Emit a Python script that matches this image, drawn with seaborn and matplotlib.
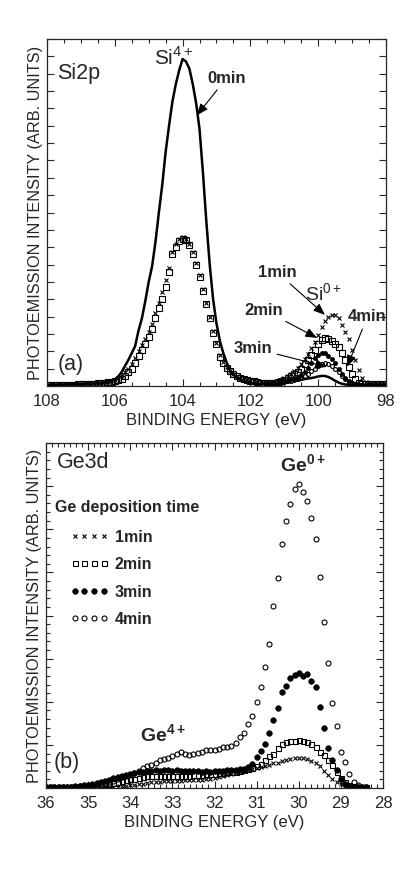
import numpy as np
import seaborn as sns
import matplotlib.pyplot as plt
from matplotlib.ticker import MultipleLocator

# ---------------- data: (a) Si2p ----------------
energy_a = np.round(np.arange(108.0, 97.95, -0.1), 1)      # 108.0 ... 98.0
energy_a_si0 = np.round(np.arange(101.5, 97.95, -0.1), 1)  # 101.5 ... 98.0

si_0min = [0.05, 0.05, 0.06, 0.06, 0.07, 0.08, 0.08, 0.09, 0.10, 0.10,
           0.10, 0.11, 0.12, 0.13, 0.14, 0.15, 0.17, 0.20, 0.25, 0.30,
           0.35, 0.55, 0.80, 1.15, 1.50, 1.90, 2.30, 3.20, 3.90, 4.90,
           6.00, 6.90, 8.30, 10.0, 11.6, 13.5, 15.0, 16.4, 17.4, 18.2,
           18.85, 18.7, 18.3, 17.4, 16.3, 14.8, 12.3, 9.5, 7.0, 5.0,
           3.6, 2.6, 1.9, 1.35, 0.90, 0.65, 0.48, 0.35, 0.27, 0.22,
           0.18, 0.15, 0.13, 0.12, 0.12, 0.12, 0.13, 0.14, 0.16, 0.18,
           0.21, 0.24, 0.27, 0.30, 0.33, 0.36, 0.40, 0.43, 0.46, 0.50,
           0.55, 0.58, 0.58, 0.52, 0.42, 0.30, 0.20, 0.13, 0.09, 0.07,
           0.06, 0.05, 0.05, 0.05, 0.05, 0.05, 0.05, 0.05, 0.05, 0.05,
           0.05]

si_1min = [0.05, 0.05, 0.05, 0.06, 0.06, 0.07, 0.07, 0.08, 0.09, 0.10,
           0.11, 0.12, 0.13, 0.14, 0.16, 0.18, 0.20, 0.22, 0.25, 0.30,
           0.36, 0.45, 0.58, 0.78, 1.00, 1.25, 1.60, 2.00, 2.35, 2.70,
           3.10, 3.60, 4.20, 4.80, 5.40, 6.10, 6.80, 7.70, 8.20, 8.50,
           8.60, 8.50, 8.20, 7.70, 7.10, 6.40, 5.60, 4.80, 4.00, 3.15,
           2.50, 1.80, 1.40, 1.10, 0.88, 0.70, 0.57, 0.47, 0.40, 0.34,
           0.30, 0.27, 0.24, 0.21, 0.20, 0.20, 0.22, 0.25, 0.30, 0.37,
           0.45, 0.56, 0.70, 0.86, 1.05, 1.28, 1.55, 1.85, 2.20, 2.55,
           2.95, 3.40, 3.75, 4.00, 4.10, 4.10, 3.90, 3.50, 3.10, 2.70,
           2.10, 1.50, 0.90, 0.45, 0.25, 0.15, 0.12, 0.10, 0.10, 0.10,
           0.10]

si_2min = [0.05, 0.05, 0.05, 0.05, 0.06, 0.06, 0.06, 0.07, 0.08, 0.09,
           0.10, 0.11, 0.12, 0.13, 0.14, 0.15, 0.17, 0.19, 0.21, 0.23,
           0.27, 0.33, 0.42, 0.60, 0.80, 1.00, 1.35, 1.75, 2.10, 2.45,
           2.85, 3.30, 3.90, 4.50, 5.00, 5.70, 6.60, 7.60, 8.00, 8.35,
           8.47, 8.40, 8.10, 7.60, 7.00, 6.30, 5.50, 4.75, 3.90, 3.05,
           2.40, 1.70, 1.35, 1.05, 0.85, 0.67, 0.55, 0.45, 0.38, 0.33,
           0.30, 0.27, 0.24, 0.20, 0.18, 0.18, 0.19, 0.20, 0.23, 0.28,
           0.35, 0.44, 0.55, 0.68, 0.82, 1.00, 1.25, 1.50, 1.80, 2.10,
           2.45, 2.65, 2.75, 2.70, 2.60, 2.45, 2.25, 1.90, 1.50, 1.10,
           0.70, 0.40, 0.20, 0.13, 0.11, 0.10, 0.10, 0.10, 0.10, 0.10,
           0.10]

si_3min = [0.15, 0.16, 0.18, 0.20, 0.23, 0.27, 0.32, 0.38, 0.45, 0.53,
           0.62, 0.80, 1.05, 1.35, 1.60, 1.80, 1.90, 1.88, 1.75, 1.55,
           1.30, 1.00, 0.70, 0.45, 0.27, 0.16, 0.10, 0.08, 0.07, 0.06,
           0.05, 0.05, 0.05, 0.05, 0.05, 0.05]

si_4min = [0.13, 0.14, 0.15, 0.17, 0.19, 0.22, 0.26, 0.30, 0.35, 0.40,
           0.45, 0.55, 0.70, 0.85, 1.00, 1.15, 1.25, 1.30, 1.25, 1.15,
           1.00, 0.80, 0.60, 0.40, 0.25, 0.15, 0.10, 0.08, 0.07, 0.06,
           0.05, 0.05, 0.05, 0.05, 0.05, 0.05]

# ---------------- data: (b) Ge3d ----------------
energy_b = np.round(np.arange(36.0, 28.35, -0.1), 1)  # 36.0 ... 28.4

ge_1min = [0.05, 0.05, 0.05, 0.05, 0.05, 0.05, 0.05, 0.06, 0.06, 0.07,
           0.07, 0.08, 0.08, 0.09, 0.09, 0.10, 0.10, 0.15, 0.20, 0.25,
           0.30, 0.35, 0.45, 0.50, 0.60, 0.65, 0.70, 0.75, 0.80, 0.80,
           0.85, 0.85, 0.85, 0.90, 0.90, 0.90, 0.95, 0.95, 1.00, 1.10,
           1.20, 1.30, 1.40, 1.50, 1.65, 1.75, 1.85, 1.95, 2.05, 2.15,
           2.30, 2.40, 2.55, 2.70, 2.85, 2.95, 3.10, 3.25, 3.35, 3.45,
           3.50, 3.45, 3.35, 3.15, 2.90, 2.50, 2.00, 1.55, 1.10, 0.70,
           0.45, 0.25, 0.12, 0.08, 0.05, 0.05, 0.05]

ge_2min = [0.12, 0.12, 0.13, 0.13, 0.14, 0.15, 0.16, 0.17, 0.18, 0.20,
           0.25, 0.27, 0.30, 0.35, 0.42, 0.50, 0.60, 0.70, 0.80, 0.90,
           1.00, 1.10, 1.20, 1.30, 1.35, 1.40, 1.40, 1.42, 1.45, 1.42,
           1.45, 1.45, 1.42, 1.45, 1.45, 1.48, 1.50, 1.55, 1.60, 1.65,
           1.65, 1.70, 1.75, 1.80, 1.85, 1.90, 2.00, 2.10, 2.20, 2.35,
           2.50, 2.80, 3.30, 3.70, 4.00, 4.60, 5.10, 5.30, 5.45, 5.50,
           5.55, 5.50, 5.35, 5.10, 4.70, 4.20, 3.80, 3.30, 2.70, 1.90,
           1.20, 0.75, 0.40, 0.25, 0.15, 0.12, 0.10]

ge_3min = [0.10, 0.10, 0.10, 0.10, 0.10, 0.12, 0.15, 0.20, 0.25, 0.30,
           0.35, 0.45, 0.55, 0.65, 0.80, 0.95, 1.15, 1.30, 1.40, 1.50,
           1.65, 1.75, 1.85, 1.90, 1.95, 2.00, 2.05, 2.00, 2.10, 2.05,
           2.00, 2.05, 2.00, 1.95, 2.00, 1.95, 1.95, 1.90, 1.95, 1.90,
           1.95, 1.95, 2.00, 2.05, 2.10, 2.10, 2.15, 2.20, 2.40, 2.80,
           3.60, 4.30, 5.10, 6.40, 7.90, 9.30, 11.1, 11.8, 12.8, 13.1,
           13.3, 13.0, 13.2, 12.4, 11.7, 9.40, 7.00, 4.60, 3.20, 2.10,
           1.10, 0.45, 0.20, 0.10, 0.10, 0.10, 0.10]

ge_4min = [0.15, 0.15, 0.15, 0.15, 0.15, 0.15, 0.15, 0.16, 0.18, 0.22,
           0.28, 0.35, 0.42, 0.50, 0.60, 0.70, 0.85, 1.05, 1.25, 1.40,
           1.55, 1.75, 2.00, 2.30, 2.50, 2.70, 2.95, 3.20, 3.35, 3.50,
           3.70, 4.00, 4.20, 3.95, 3.80, 3.95, 4.10, 4.20, 4.45, 4.35,
           4.40, 4.55, 4.70, 4.80, 4.85, 5.20, 5.90, 6.40, 7.40, 8.30,
           10.0, 11.7, 14.0, 16.7, 21.1, 24.3, 28.3, 31.0, 32.9, 34.7,
           35.2, 34.3, 33.3, 31.3, 28.9, 24.5, 19.3, 14.5, 9.80, 7.20,
           4.20, 3.00, 1.60, 0.70, 0.35, 0.15, 0.10]

# ---------------- style ----------------
sns.set_style("ticks")
plt.rcParams['font.family'] = ['Liberation Sans', 'DejaVu Sans']
plt.rcParams['mathtext.fontset'] = 'custom'
plt.rcParams['mathtext.rm'] = 'Liberation Sans'
plt.rcParams['mathtext.bf'] = 'Liberation Sans:bold'
plt.rcParams['axes.linewidth'] = 0.9

fig = plt.figure(figsize=(4.13, 8.69), dpi=100)
ax_a = fig.add_axes([0.1138, 0.5558, 0.8208, 0.3993])
ax_b = fig.add_axes([0.1114, 0.0932, 0.8160, 0.3970])

open_kw = dict(linestyle='', markerfacecolor='none', markeredgecolor='k',
               markeredgewidth=0.8, color='k')
arrow_kw = dict(arrowstyle='-|>,head_length=0.5,head_width=0.2', color='k',
                lw=0.8, shrinkA=1, shrinkB=0, mutation_scale=14)

# ---------------- (a) Si2p ----------------
sns.lineplot(x=energy_a, y=si_0min, ax=ax_a, color='k', lw=1.8)
sns.lineplot(x=energy_a_si0, y=si_4min, ax=ax_a, marker='o', markersize=2.8, **open_kw)
sns.lineplot(x=energy_a_si0, y=si_3min, ax=ax_a, marker='o', markersize=3.0,
             linestyle='', color='k', markeredgecolor='k', markeredgewidth=0.5)
sns.lineplot(x=energy_a, y=si_2min, ax=ax_a, marker='s', markersize=3.8, **open_kw)
sns.lineplot(x=energy_a, y=si_1min, ax=ax_a, marker='x', markersize=3.2, **open_kw)

ax_a.set_xlim(108, 98)
ax_a.set_ylim(0, 20)
ax_a.xaxis.set_major_locator(MultipleLocator(2))
ax_a.xaxis.set_minor_locator(MultipleLocator(0.5))
ax_a.yaxis.set_major_locator(MultipleLocator(1))

ax_a.text(107.7, 18.0, "Si2p", fontsize=15.5, va='center', ha='left')
ax_a.text(107.7, 1.25, "(a)", fontsize=15.5, va='center', ha='left')
ax_a.text(104.25, 18.5, r"Si$^{4+}$", fontsize=15, ha='center', va='baseline')
ax_a.text(99.85, 4.9, r"Si$^{0+}$", fontsize=14, ha='center', va='baseline')

ax_a.annotate("0min", xy=(103.58, 15.6), xytext=(102.7, 17.75), fontsize=12,
              weight='bold', ha='center', va='center', arrowprops=arrow_kw)
ax_a.annotate("1min", xy=(99.8, 4.1), xytext=(101.22, 6.57), fontsize=12,
              weight='bold', ha='center', va='center', arrowprops=arrow_kw)
ax_a.annotate("2min", xy=(100.03, 2.77), xytext=(101.6, 4.38), fontsize=12,
              weight='bold', ha='center', va='center', arrowprops=arrow_kw)
ax_a.annotate("3min", xy=(99.74, 1.1), xytext=(101.92, 2.19), fontsize=12,
              weight='bold', ha='center', va='center', arrowprops=arrow_kw)
ax_a.annotate("4min", xy=(99.15, 1.1), xytext=(98.55, 3.98), fontsize=12,
              weight='bold', ha='center', va='center', arrowprops=arrow_kw)

# ---------------- (b) Ge3d ----------------
sns.lineplot(x=energy_b, y=ge_1min, ax=ax_b, marker='x', markersize=3.2,
             label='1min', **open_kw)
sns.lineplot(x=energy_b, y=ge_2min, ax=ax_b, marker='s', markersize=3.6,
             label='2min', **open_kw)
sns.lineplot(x=energy_b, y=ge_3min, ax=ax_b, marker='o', markersize=4.0,
             linestyle='', color='k', markeredgecolor='k', markeredgewidth=0.5,
             label='3min')
sns.lineplot(x=energy_b, y=ge_4min, ax=ax_b, marker='o', markersize=3.6,
             label='4min', **open_kw)

ax_b.set_xlim(36, 28)
ax_b.set_ylim(0, 40)
ax_b.xaxis.set_major_locator(MultipleLocator(1))
ax_b.xaxis.set_minor_locator(MultipleLocator(1 / 7))
ax_b.yaxis.set_major_locator(MultipleLocator(5))
ax_b.yaxis.set_minor_locator(MultipleLocator(1))

ax_b.text(35.74, 37.7, "Ge3d", fontsize=15.5, va='center', ha='left')
ax_b.text(35.83, 2.9, "(b)", fontsize=15.5, va='center', ha='left')
ax_b.text(30.44, 36.6, r"Ge$^{\mathbf{0+}}$", fontsize=14, weight='bold',
          ha='left', va='baseline')
ax_b.text(33.77, 5.3, r"Ge$^{\mathbf{4+}}$", fontsize=14, weight='bold',
          ha='left', va='baseline')
ax_b.text(35.79, 32.5, "Ge deposition time", fontsize=11.5, weight='bold',
          ha='left', va='center')

ax_b.legend(loc='upper left', bbox_to_anchor=(0.0712, 0.749), frameon=False,
            numpoints=4, handlelength=2.4, handletextpad=0.4, labelspacing=0.78,
            borderpad=0, borderaxespad=0,
            prop={'weight': 'bold', 'size': 11.5})

# ---------------- common axes cosmetics ----------------
for ax in (ax_a, ax_b):
    ax.tick_params(which='both', direction='in', top=True, right=True,
                   labelleft=False, width=0.8, labelsize=12, pad=5.5)
    ax.tick_params(which='major', length=5)
    ax.tick_params(which='minor', length=3)
    ax.set_xlabel("BINDING ENERGY (eV)", fontsize=12, labelpad=3)
    ax.set_ylabel("PHOTOEMISSION INTENSITY (ARB. UNITS)", fontsize=11.7, labelpad=3)

fig.savefig("out.png", dpi=100)
